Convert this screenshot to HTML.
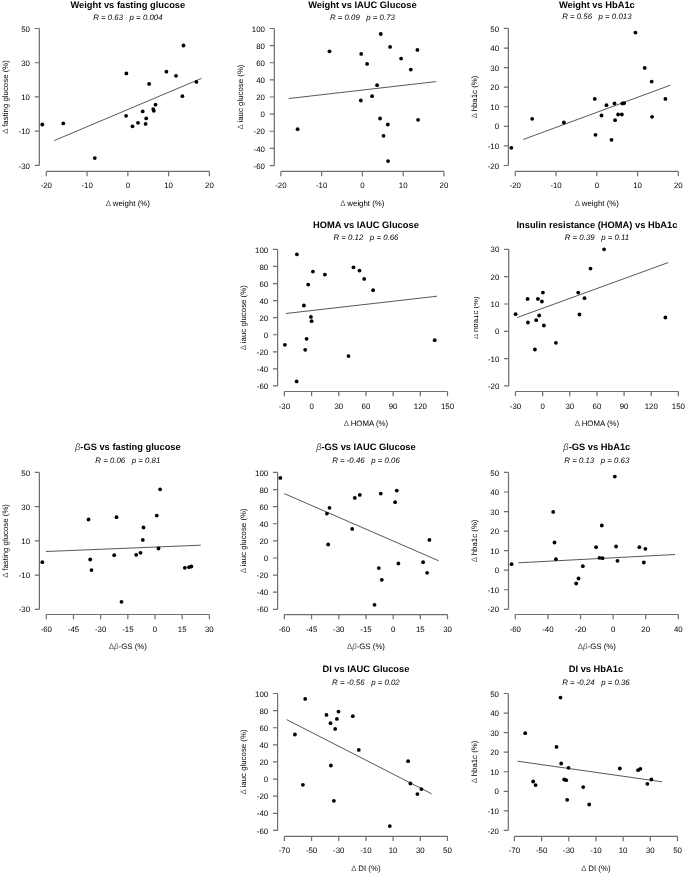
<!DOCTYPE html>
<html><head><meta charset="utf-8"><title>Scatter plots</title>
<style>
html,body{margin:0;padding:0;background:#fff;}
svg{display:block;will-change:transform;}
text{font-family:"Liberation Sans",sans-serif;text-rendering:geometricPrecision;fill:#000;}
.t{font-size:9.32px;font-weight:bold;text-anchor:middle;}
.s{font-size:7.85px;font-style:italic;text-anchor:middle;}
.k{font-size:7.85px;text-anchor:end;}
.a{font-size:7.85px;text-anchor:middle;}
.g{font-weight:normal;font-style:italic;fill:#555;}
.d{fill:#555;}
.ax{stroke:#6e6e6e;stroke-width:1.2;fill:none;}
.rl{stroke:#444;stroke-width:0.9;fill:none;}
</style></head><body>
<svg width="685" height="873" viewBox="0 0 685 873">
<rect width="685" height="873" fill="#fff"/>
<g>
<text class="t" x="127.85" y="7.7">Weight vs fasting glucose</text>
<text class="s" x="127.85" y="19.5" xml:space="preserve">R = 0.63   p = 0.004</text>
<path class="ax" d="M39.35 28.5V165.45M34.75 28.5H39.35M34.75 62.74H39.35M34.75 96.97H39.35M34.75 131.21H39.35M34.75 165.45H39.35"/>
<text class="k" x="29.95" y="31.6">50</text>
<text class="k" x="29.95" y="65.84">30</text>
<text class="k" x="29.95" y="100.07">10</text>
<text class="k" x="29.95" y="134.31">-10</text>
<text class="k" x="29.95" y="168.55">-30</text>
<path class="ax" d="M46.3 171.4H209.4M46.3 171.4V176.2M87.08 171.4V176.2M127.85 171.4V176.2M168.62 171.4V176.2M209.4 171.4V176.2"/>
<text class="a" x="46.3" y="188.4">-20</text>
<text class="a" x="87.08" y="188.4">-10</text>
<text class="a" x="127.85" y="188.4">0</text>
<text class="a" x="168.62" y="188.4">10</text>
<text class="a" x="209.4" y="188.4">20</text>
<text class="a" x="127.85" y="205.8"><tspan class="d">Δ</tspan> weight (%)</text>
<text class="a" transform="translate(7.85,96.97) rotate(-90)"><tspan class="d">Δ</tspan> fasting glucose (%)</text>
<path class="rl" d="M54.2 140.6L201.4 78.4"/>
<circle cx="42.3" cy="124.5" r="1.9"/>
<circle cx="63.3" cy="123.4" r="1.9"/>
<circle cx="94.8" cy="158.1" r="1.9"/>
<circle cx="126.4" cy="73.4" r="1.9"/>
<circle cx="126.1" cy="115.8" r="1.9"/>
<circle cx="132.5" cy="126.3" r="1.9"/>
<circle cx="138" cy="122.8" r="1.9"/>
<circle cx="142.7" cy="111.4" r="1.9"/>
<circle cx="146.2" cy="118.4" r="1.9"/>
<circle cx="145.6" cy="123.9" r="1.9"/>
<circle cx="149.1" cy="83.9" r="1.9"/>
<circle cx="153.2" cy="109.1" r="1.9"/>
<circle cx="153.8" cy="110.8" r="1.9"/>
<circle cx="155.5" cy="104.7" r="1.9"/>
<circle cx="166.4" cy="71.7" r="1.9"/>
<circle cx="176" cy="75.8" r="1.9"/>
<circle cx="183.5" cy="45.5" r="1.9"/>
<circle cx="182.4" cy="96.2" r="1.9"/>
<circle cx="196.4" cy="81.9" r="1.9"/>
</g>
<g>
<text class="t" x="362.39" y="7.7">Weight vs IAUC Glucose</text>
<text class="s" x="362.39" y="19.5" xml:space="preserve">R = 0.09   p = 0.73</text>
<path class="ax" d="M274.33 28.5V165.53M269.73 28.5H274.33M269.73 45.63H274.33M269.73 62.76H274.33M269.73 79.89H274.33M269.73 97.02H274.33M269.73 114.14H274.33M269.73 131.27H274.33M269.73 148.4H274.33M269.73 165.53H274.33"/>
<text class="k" x="264.93" y="31.6">100</text>
<text class="k" x="264.93" y="48.73">80</text>
<text class="k" x="264.93" y="65.86">60</text>
<text class="k" x="264.93" y="82.99">40</text>
<text class="k" x="264.93" y="100.11">20</text>
<text class="k" x="264.93" y="117.24">0</text>
<text class="k" x="264.93" y="134.37">-20</text>
<text class="k" x="264.93" y="151.5">-40</text>
<text class="k" x="264.93" y="168.63">-60</text>
<path class="ax" d="M280.86 171.4H443.93M280.86 171.4V176.2M321.63 171.4V176.2M362.39 171.4V176.2M403.16 171.4V176.2M443.93 171.4V176.2"/>
<text class="a" x="280.86" y="188.4">-20</text>
<text class="a" x="321.63" y="188.4">-10</text>
<text class="a" x="362.39" y="188.4">0</text>
<text class="a" x="403.16" y="188.4">10</text>
<text class="a" x="443.93" y="188.4">20</text>
<text class="a" x="362.39" y="205.8"><tspan class="d">Δ</tspan> weight (%)</text>
<text class="a" transform="translate(242.83,97.02) rotate(-90)"><tspan class="d">Δ</tspan> iauc glucose (%)</text>
<path class="rl" d="M288.9 98.5L436.1 81.6"/>
<circle cx="297.6" cy="129.2" r="1.9"/>
<circle cx="329.5" cy="51.3" r="1.9"/>
<circle cx="361.2" cy="53.9" r="1.9"/>
<circle cx="360.8" cy="100.5" r="1.9"/>
<circle cx="367.1" cy="63.9" r="1.9"/>
<circle cx="372.1" cy="96.2" r="1.9"/>
<circle cx="377.1" cy="85.2" r="1.9"/>
<circle cx="380.8" cy="34" r="1.9"/>
<circle cx="380.1" cy="118.5" r="1.9"/>
<circle cx="390.1" cy="46.9" r="1.9"/>
<circle cx="387.8" cy="124.5" r="1.9"/>
<circle cx="383.5" cy="135.8" r="1.9"/>
<circle cx="388.1" cy="161.1" r="1.9"/>
<circle cx="401.1" cy="58.6" r="1.9"/>
<circle cx="410.8" cy="69.6" r="1.9"/>
<circle cx="417.4" cy="49.9" r="1.9"/>
<circle cx="418.1" cy="119.8" r="1.9"/>
</g>
<g>
<text class="t" x="596.83" y="7.65">Weight vs HbA1c</text>
<text class="s" x="596.83" y="19.45" xml:space="preserve">R = 0.56   p = 0.013</text>
<path class="ax" d="M508.4 28.45V165.5M503.8 28.45H508.4M503.8 48.03H508.4M503.8 67.61H508.4M503.8 87.19H508.4M503.8 106.76H508.4M503.8 126.34H508.4M503.8 145.92H508.4M503.8 165.5H508.4"/>
<text class="k" x="499" y="31.55">50</text>
<text class="k" x="499" y="51.13">40</text>
<text class="k" x="499" y="70.71">30</text>
<text class="k" x="499" y="90.29">20</text>
<text class="k" x="499" y="109.86">10</text>
<text class="k" x="499" y="129.44">0</text>
<text class="k" x="499" y="149.02">-10</text>
<text class="k" x="499" y="168.6">-20</text>
<path class="ax" d="M515.3 171.4H678.35M515.3 171.4V176.2M556.06 171.4V176.2M596.83 171.4V176.2M637.59 171.4V176.2M678.35 171.4V176.2"/>
<text class="a" x="515.3" y="188.4">-20</text>
<text class="a" x="556.06" y="188.4">-10</text>
<text class="a" x="596.83" y="188.4">0</text>
<text class="a" x="637.59" y="188.4">10</text>
<text class="a" x="678.35" y="188.4">20</text>
<text class="a" x="596.83" y="205.8"><tspan class="d">Δ</tspan> weight (%)</text>
<text class="a" transform="translate(476.9,96.97) rotate(-90)"><tspan class="d">Δ</tspan> hba1c (%)</text>
<path class="rl" d="M523.2 139.5L670.4 85.2"/>
<circle cx="511.3" cy="147.8" r="1.9"/>
<circle cx="532.2" cy="118.8" r="1.9"/>
<circle cx="563.9" cy="122.5" r="1.9"/>
<circle cx="594.8" cy="98.9" r="1.9"/>
<circle cx="595.5" cy="134.8" r="1.9"/>
<circle cx="601.5" cy="115.5" r="1.9"/>
<circle cx="606.5" cy="105.2" r="1.9"/>
<circle cx="614.5" cy="103.5" r="1.9"/>
<circle cx="615.1" cy="120.2" r="1.9"/>
<circle cx="611.5" cy="139.8" r="1.9"/>
<circle cx="618.1" cy="114.5" r="1.9"/>
<circle cx="621.8" cy="114.5" r="1.9"/>
<circle cx="622.4" cy="103.5" r="1.9"/>
<circle cx="624.1" cy="103.2" r="1.9"/>
<circle cx="635.4" cy="32.6" r="1.9"/>
<circle cx="644.7" cy="67.9" r="1.9"/>
<circle cx="651.7" cy="81.6" r="1.9"/>
<circle cx="652.1" cy="116.8" r="1.9"/>
<circle cx="665.4" cy="98.9" r="1.9"/>
</g>
<g>
<text class="t" x="365.95" y="227.7">HOMA vs IAUC Glucose</text>
<text class="s" x="365.95" y="240.4" xml:space="preserve">R = 0.12   p = 0.66</text>
<path class="ax" d="M277.6 249.4V385.95M273 249.4H277.6M273 266.47H277.6M273 283.54H277.6M273 300.61H277.6M273 317.68H277.6M273 334.74H277.6M273 351.81H277.6M273 368.88H277.6M273 385.95H277.6"/>
<text class="k" x="268.2" y="252.5">100</text>
<text class="k" x="268.2" y="269.57">80</text>
<text class="k" x="268.2" y="286.64">60</text>
<text class="k" x="268.2" y="303.71">40</text>
<text class="k" x="268.2" y="320.78">20</text>
<text class="k" x="268.2" y="337.84">0</text>
<text class="k" x="268.2" y="354.91">-20</text>
<text class="k" x="268.2" y="371.98">-40</text>
<text class="k" x="268.2" y="389.05">-60</text>
<path class="ax" d="M284.4 391.5H447.5M284.4 391.5V396.3M311.58 391.5V396.3M338.77 391.5V396.3M365.95 391.5V396.3M393.13 391.5V396.3M420.32 391.5V396.3M447.5 391.5V396.3"/>
<text class="a" x="284.4" y="408.5">-30</text>
<text class="a" x="311.58" y="408.5">0</text>
<text class="a" x="338.77" y="408.5">30</text>
<text class="a" x="365.95" y="408.5">60</text>
<text class="a" x="393.13" y="408.5">90</text>
<text class="a" x="420.32" y="408.5">120</text>
<text class="a" x="447.5" y="408.5">150</text>
<text class="a" x="365.95" y="425.9"><tspan class="d">Δ</tspan> HOMA (%)</text>
<text class="a" transform="translate(246.1,317.68) rotate(-90)"><tspan class="d">Δ</tspan> iauc glucose (%)</text>
<path class="rl" d="M285.9 313.5L437.1 296.2"/>
<circle cx="296.9" cy="254.3" r="1.9"/>
<circle cx="284.9" cy="344.8" r="1.9"/>
<circle cx="296.6" cy="381.4" r="1.9"/>
<circle cx="303.9" cy="305.5" r="1.9"/>
<circle cx="305.2" cy="349.8" r="1.9"/>
<circle cx="306.6" cy="338.8" r="1.9"/>
<circle cx="308.2" cy="284.6" r="1.9"/>
<circle cx="310.9" cy="316.9" r="1.9"/>
<circle cx="311.6" cy="321.2" r="1.9"/>
<circle cx="312.9" cy="271.6" r="1.9"/>
<circle cx="324.9" cy="274.6" r="1.9"/>
<circle cx="348.5" cy="356.1" r="1.9"/>
<circle cx="353.5" cy="267.3" r="1.9"/>
<circle cx="359.5" cy="270.6" r="1.9"/>
<circle cx="364.2" cy="278.9" r="1.9"/>
<circle cx="373.1" cy="290.2" r="1.9"/>
<circle cx="434.7" cy="340.2" r="1.9"/>
</g>
<g>
<text class="t" x="596.95" y="227.65">Insulin resistance (HOMA) vs HbA1c</text>
<text class="s" x="596.95" y="240.35" xml:space="preserve">R = 0.39   p = 0.11</text>
<path class="ax" d="M508.7 249.35V385.97M504.1 249.35H508.7M504.1 276.67H508.7M504.1 304H508.7M504.1 331.32H508.7M504.1 358.65H508.7M504.1 385.97H508.7"/>
<text class="k" x="499.3" y="252.45">30</text>
<text class="k" x="499.3" y="279.77">20</text>
<text class="k" x="499.3" y="307.1">10</text>
<text class="k" x="499.3" y="334.42">0</text>
<text class="k" x="499.3" y="361.75">-10</text>
<text class="k" x="499.3" y="389.07">-20</text>
<path class="ax" d="M515.5 391.5H678.4M515.5 391.5V396.3M542.65 391.5V396.3M569.8 391.5V396.3M596.95 391.5V396.3M624.1 391.5V396.3M651.25 391.5V396.3M678.4 391.5V396.3"/>
<text class="a" x="515.5" y="408.5">-30</text>
<text class="a" x="542.65" y="408.5">0</text>
<text class="a" x="569.8" y="408.5">30</text>
<text class="a" x="596.95" y="408.5">60</text>
<text class="a" x="624.1" y="408.5">90</text>
<text class="a" x="651.25" y="408.5">120</text>
<text class="a" x="678.4" y="408.5">150</text>
<text class="a" x="596.95" y="425.9"><tspan class="d">Δ</tspan> HOMA (%)</text>
<clipPath id="c4"><rect x="474" y="0" width="100" height="873"/></clipPath>
<g clip-path="url(#c4)"><text class="a" transform="translate(478.1,317.66) rotate(-90)"><tspan class="d">Δ</tspan> hba1c (%)</text></g>
<path class="rl" d="M517.3 317.5L668.1 262.6"/>
<circle cx="515.6" cy="314.2" r="1.9"/>
<circle cx="527.6" cy="298.9" r="1.9"/>
<circle cx="527.9" cy="322.5" r="1.9"/>
<circle cx="534.9" cy="349.5" r="1.9"/>
<circle cx="536.2" cy="320.2" r="1.9"/>
<circle cx="537.9" cy="298.9" r="1.9"/>
<circle cx="539.2" cy="315.5" r="1.9"/>
<circle cx="541.9" cy="301.5" r="1.9"/>
<circle cx="542.9" cy="292.6" r="1.9"/>
<circle cx="543.9" cy="325.5" r="1.9"/>
<circle cx="555.9" cy="342.8" r="1.9"/>
<circle cx="578.2" cy="292.6" r="1.9"/>
<circle cx="579.5" cy="314.5" r="1.9"/>
<circle cx="584.5" cy="298.2" r="1.9"/>
<circle cx="590.5" cy="268.6" r="1.9"/>
<circle cx="604.1" cy="249.3" r="1.9"/>
<circle cx="665.4" cy="317.5" r="1.9"/>
</g>
<g>
<text class="t" x="127.84" y="450.2"><tspan class="g">β</tspan>-GS vs fasting glucose</text>
<text class="s" x="127.84" y="463.4" xml:space="preserve">R = 0.06   p = 0.81</text>
<path class="ax" d="M39.4 472.4V609.33M34.8 472.4H39.4M34.8 506.63H39.4M34.8 540.87H39.4M34.8 575.1H39.4M34.8 609.33H39.4"/>
<text class="k" x="30" y="475.5">50</text>
<text class="k" x="30" y="509.73">30</text>
<text class="k" x="30" y="543.97">10</text>
<text class="k" x="30" y="578.2">-10</text>
<text class="k" x="30" y="612.43">-30</text>
<path class="ax" d="M46.3 614.5H209.37M46.3 614.5V619.3M73.48 614.5V619.3M100.66 614.5V619.3M127.83 614.5V619.3M155.01 614.5V619.3M182.19 614.5V619.3M209.37 614.5V619.3"/>
<text class="a" x="46.3" y="631.5">-60</text>
<text class="a" x="73.48" y="631.5">-45</text>
<text class="a" x="100.66" y="631.5">-30</text>
<text class="a" x="127.83" y="631.5">-15</text>
<text class="a" x="155.01" y="631.5">0</text>
<text class="a" x="182.19" y="631.5">15</text>
<text class="a" x="209.37" y="631.5">30</text>
<text class="a" x="127.84" y="648.9"><tspan class="d">Δ</tspan><tspan class="g">β</tspan>-GS (%)</text>
<text class="a" transform="translate(7.9,540.87) rotate(-90)"><tspan class="d">Δ</tspan> fasting glucose (%)</text>
<path class="rl" d="M45.9 551.5L200.7 545.2"/>
<circle cx="42.3" cy="562.2" r="1.9"/>
<circle cx="88.5" cy="519.5" r="1.9"/>
<circle cx="90.2" cy="559.5" r="1.9"/>
<circle cx="91.5" cy="570.1" r="1.9"/>
<circle cx="114.2" cy="555.2" r="1.9"/>
<circle cx="116.5" cy="517.2" r="1.9"/>
<circle cx="121.5" cy="601.8" r="1.9"/>
<circle cx="136.2" cy="554.8" r="1.9"/>
<circle cx="140.5" cy="552.8" r="1.9"/>
<circle cx="142.8" cy="539.9" r="1.9"/>
<circle cx="143.5" cy="527.5" r="1.9"/>
<circle cx="156.8" cy="515.6" r="1.9"/>
<circle cx="158.5" cy="548.5" r="1.9"/>
<circle cx="160.1" cy="489.3" r="1.9"/>
<circle cx="184.8" cy="567.8" r="1.9"/>
<circle cx="189.1" cy="567.2" r="1.9"/>
<circle cx="191.4" cy="566.5" r="1.9"/>
</g>
<g>
<text class="t" x="365.96" y="450.22"><tspan class="g">β</tspan>-GS vs IAUC Glucose</text>
<text class="s" x="365.96" y="463.42" xml:space="preserve">R = -0.46   p = 0.06</text>
<path class="ax" d="M277.6 472.42V609.33M273 472.42H277.6M273 489.53H277.6M273 506.65H277.6M273 523.76H277.6M273 540.88H277.6M273 557.99H277.6M273 575.1H277.6M273 592.22H277.6M273 609.33H277.6"/>
<text class="k" x="268.2" y="475.52">100</text>
<text class="k" x="268.2" y="492.63">80</text>
<text class="k" x="268.2" y="509.75">60</text>
<text class="k" x="268.2" y="526.86">40</text>
<text class="k" x="268.2" y="543.98">20</text>
<text class="k" x="268.2" y="561.09">0</text>
<text class="k" x="268.2" y="578.2">-20</text>
<text class="k" x="268.2" y="595.32">-40</text>
<text class="k" x="268.2" y="612.43">-60</text>
<path class="ax" d="M284.4 614.55H447.52M284.4 614.55V619.35M311.59 614.55V619.35M338.77 614.55V619.35M365.96 614.55V619.35M393.15 614.55V619.35M420.33 614.55V619.35M447.52 614.55V619.35"/>
<text class="a" x="284.4" y="631.55">-60</text>
<text class="a" x="311.59" y="631.55">-45</text>
<text class="a" x="338.77" y="631.55">-30</text>
<text class="a" x="365.96" y="631.55">-15</text>
<text class="a" x="393.15" y="631.55">0</text>
<text class="a" x="420.33" y="631.55">15</text>
<text class="a" x="447.52" y="631.55">30</text>
<text class="a" x="365.96" y="648.95"><tspan class="d">Δ</tspan><tspan class="g">β</tspan>-GS (%)</text>
<text class="a" transform="translate(246.1,540.88) rotate(-90)"><tspan class="d">Δ</tspan> iauc glucose (%)</text>
<path class="rl" d="M284.3 493.6L438.7 560.8"/>
<circle cx="280.3" cy="477.9" r="1.9"/>
<circle cx="326.9" cy="513.6" r="1.9"/>
<circle cx="329.5" cy="507.9" r="1.9"/>
<circle cx="328.2" cy="544.5" r="1.9"/>
<circle cx="352.2" cy="528.9" r="1.9"/>
<circle cx="354.8" cy="497.9" r="1.9"/>
<circle cx="359.8" cy="494.9" r="1.9"/>
<circle cx="374.5" cy="604.8" r="1.9"/>
<circle cx="378.8" cy="568.1" r="1.9"/>
<circle cx="380.8" cy="493.6" r="1.9"/>
<circle cx="381.8" cy="579.8" r="1.9"/>
<circle cx="395.1" cy="502.2" r="1.9"/>
<circle cx="396.8" cy="490.6" r="1.9"/>
<circle cx="398.4" cy="563.5" r="1.9"/>
<circle cx="423.1" cy="562.2" r="1.9"/>
<circle cx="427.1" cy="572.8" r="1.9"/>
<circle cx="429.4" cy="539.9" r="1.9"/>
</g>
<g>
<text class="t" x="596.83" y="450.22"><tspan class="g">β</tspan>-GS vs HbA1c</text>
<text class="s" x="596.83" y="463.42" xml:space="preserve">R = 0.13   p = 0.63</text>
<path class="ax" d="M508.5 472.42V609.33M503.9 472.42H508.5M503.9 491.98H508.5M503.9 511.54H508.5M503.9 531.1H508.5M503.9 550.65H508.5M503.9 570.21H508.5M503.9 589.77H508.5M503.9 609.33H508.5"/>
<text class="k" x="499.1" y="475.52">50</text>
<text class="k" x="499.1" y="495.08">40</text>
<text class="k" x="499.1" y="514.64">30</text>
<text class="k" x="499.1" y="534.2">20</text>
<text class="k" x="499.1" y="553.75">10</text>
<text class="k" x="499.1" y="573.31">0</text>
<text class="k" x="499.1" y="592.87">-10</text>
<text class="k" x="499.1" y="612.43">-20</text>
<path class="ax" d="M515.3 614.5H678.35M515.3 614.5V619.3M547.91 614.5V619.3M580.52 614.5V619.3M613.13 614.5V619.3M645.74 614.5V619.3M678.35 614.5V619.3"/>
<text class="a" x="515.3" y="631.5">-60</text>
<text class="a" x="547.91" y="631.5">-40</text>
<text class="a" x="580.52" y="631.5">-20</text>
<text class="a" x="613.13" y="631.5">0</text>
<text class="a" x="645.74" y="631.5">20</text>
<text class="a" x="678.35" y="631.5">40</text>
<text class="a" x="596.83" y="648.9"><tspan class="d">Δ</tspan><tspan class="g">β</tspan>-GS (%)</text>
<text class="a" transform="translate(477,540.88) rotate(-90)"><tspan class="d">Δ</tspan> hba1c (%)</text>
<path class="rl" d="M518.3 562.8L675 554.5"/>
<circle cx="511.6" cy="564.2" r="1.9"/>
<circle cx="553.2" cy="511.9" r="1.9"/>
<circle cx="554.5" cy="542.5" r="1.9"/>
<circle cx="555.9" cy="559.2" r="1.9"/>
<circle cx="576.2" cy="583.5" r="1.9"/>
<circle cx="578.5" cy="578.5" r="1.9"/>
<circle cx="582.8" cy="566.2" r="1.9"/>
<circle cx="596.1" cy="547.2" r="1.9"/>
<circle cx="599.5" cy="557.8" r="1.9"/>
<circle cx="602.5" cy="558.2" r="1.9"/>
<circle cx="601.8" cy="525.5" r="1.9"/>
<circle cx="614.8" cy="476.6" r="1.9"/>
<circle cx="616.1" cy="546.5" r="1.9"/>
<circle cx="617.5" cy="560.8" r="1.9"/>
<circle cx="639.4" cy="547.2" r="1.9"/>
<circle cx="643.8" cy="562.5" r="1.9"/>
<circle cx="645.4" cy="548.8" r="1.9"/>
</g>
<g>
<text class="t" x="365.92" y="672.4">DI vs IAUC Glucose</text>
<text class="s" x="365.92" y="684.5" xml:space="preserve">R = -0.56   p = 0.02</text>
<path class="ax" d="M277.6 693.5V830.4M273 693.5H277.6M273 710.61H277.6M273 727.73H277.6M273 744.84H277.6M273 761.95H277.6M273 779.06H277.6M273 796.17H277.6M273 813.29H277.6M273 830.4H277.6"/>
<text class="k" x="268.2" y="696.6">100</text>
<text class="k" x="268.2" y="713.71">80</text>
<text class="k" x="268.2" y="730.83">60</text>
<text class="k" x="268.2" y="747.94">40</text>
<text class="k" x="268.2" y="765.05">20</text>
<text class="k" x="268.2" y="782.16">0</text>
<text class="k" x="268.2" y="799.27">-20</text>
<text class="k" x="268.2" y="816.39">-40</text>
<text class="k" x="268.2" y="833.5">-60</text>
<path class="ax" d="M284.4 836.3H447.45M284.4 836.3V841.1M311.57 836.3V841.1M338.75 836.3V841.1M365.92 836.3V841.1M393.1 836.3V841.1M420.27 836.3V841.1M447.45 836.3V841.1"/>
<text class="a" x="284.4" y="853.3">-70</text>
<text class="a" x="311.57" y="853.3">-50</text>
<text class="a" x="338.75" y="853.3">-30</text>
<text class="a" x="365.92" y="853.3">-10</text>
<text class="a" x="393.1" y="853.3">10</text>
<text class="a" x="420.27" y="853.3">30</text>
<text class="a" x="447.45" y="853.3">50</text>
<text class="a" x="365.92" y="870.7"><tspan class="d">Δ</tspan> DI (%)</text>
<text class="a" transform="translate(246.1,761.95) rotate(-90)"><tspan class="d">Δ</tspan> iauc glucose (%)</text>
<path class="rl" d="M286.6 719.6L431.7 793.8"/>
<circle cx="294.9" cy="734.5" r="1.9"/>
<circle cx="302.9" cy="784.8" r="1.9"/>
<circle cx="305.2" cy="698.9" r="1.9"/>
<circle cx="326.5" cy="714.9" r="1.9"/>
<circle cx="330.5" cy="723.2" r="1.9"/>
<circle cx="330.9" cy="765.5" r="1.9"/>
<circle cx="335.2" cy="728.9" r="1.9"/>
<circle cx="336.9" cy="718.9" r="1.9"/>
<circle cx="338.5" cy="711.6" r="1.9"/>
<circle cx="333.9" cy="800.8" r="1.9"/>
<circle cx="352.8" cy="716.2" r="1.9"/>
<circle cx="358.8" cy="749.9" r="1.9"/>
<circle cx="389.8" cy="826.1" r="1.9"/>
<circle cx="408.1" cy="761.2" r="1.9"/>
<circle cx="410.4" cy="783.5" r="1.9"/>
<circle cx="417.4" cy="794.1" r="1.9"/>
<circle cx="421.4" cy="789.1" r="1.9"/>
</g>
<g>
<text class="t" x="595.95" y="672.4">DI vs HbA1c</text>
<text class="s" x="595.95" y="684.5" xml:space="preserve">R = -0.24   p = 0.36</text>
<path class="ax" d="M508.3 693.5V830.4M503.7 693.5H508.3M503.7 713.06H508.3M503.7 732.61H508.3M503.7 752.17H508.3M503.7 771.73H508.3M503.7 791.29H508.3M503.7 810.84H508.3M503.7 830.4H508.3"/>
<text class="k" x="498.9" y="696.6">50</text>
<text class="k" x="498.9" y="716.16">40</text>
<text class="k" x="498.9" y="735.71">30</text>
<text class="k" x="498.9" y="755.27">20</text>
<text class="k" x="498.9" y="774.83">10</text>
<text class="k" x="498.9" y="794.39">0</text>
<text class="k" x="498.9" y="813.94">-10</text>
<text class="k" x="498.9" y="833.5">-20</text>
<path class="ax" d="M514.4 836.35H677.5M514.4 836.35V841.15M541.58 836.35V841.15M568.77 836.35V841.15M595.95 836.35V841.15M623.13 836.35V841.15M650.32 836.35V841.15M677.5 836.35V841.15"/>
<text class="a" x="514.4" y="853.35">-70</text>
<text class="a" x="541.58" y="853.35">-50</text>
<text class="a" x="568.77" y="853.35">-30</text>
<text class="a" x="595.95" y="853.35">-10</text>
<text class="a" x="623.13" y="853.35">10</text>
<text class="a" x="650.32" y="853.35">30</text>
<text class="a" x="677.5" y="853.35">50</text>
<text class="a" x="595.95" y="870.75"><tspan class="d">Δ</tspan> DI (%)</text>
<text class="a" transform="translate(476.8,761.95) rotate(-90)"><tspan class="d">Δ</tspan> hba1c (%)</text>
<path class="rl" d="M517.6 761.2L662.1 781.8"/>
<circle cx="525.2" cy="733.2" r="1.9"/>
<circle cx="533.2" cy="781.5" r="1.9"/>
<circle cx="535.6" cy="785.1" r="1.9"/>
<circle cx="556.5" cy="746.9" r="1.9"/>
<circle cx="560.5" cy="697.6" r="1.9"/>
<circle cx="561.2" cy="763.5" r="1.9"/>
<circle cx="564.2" cy="779.5" r="1.9"/>
<circle cx="566.2" cy="780.2" r="1.9"/>
<circle cx="567.2" cy="799.8" r="1.9"/>
<circle cx="568.5" cy="767.8" r="1.9"/>
<circle cx="583.2" cy="787.1" r="1.9"/>
<circle cx="589.2" cy="804.5" r="1.9"/>
<circle cx="619.8" cy="768.5" r="1.9"/>
<circle cx="638.1" cy="770.2" r="1.9"/>
<circle cx="640.4" cy="768.8" r="1.9"/>
<circle cx="647.4" cy="783.8" r="1.9"/>
<circle cx="651.4" cy="779.5" r="1.9"/>
</g>
</svg>
</body></html>
